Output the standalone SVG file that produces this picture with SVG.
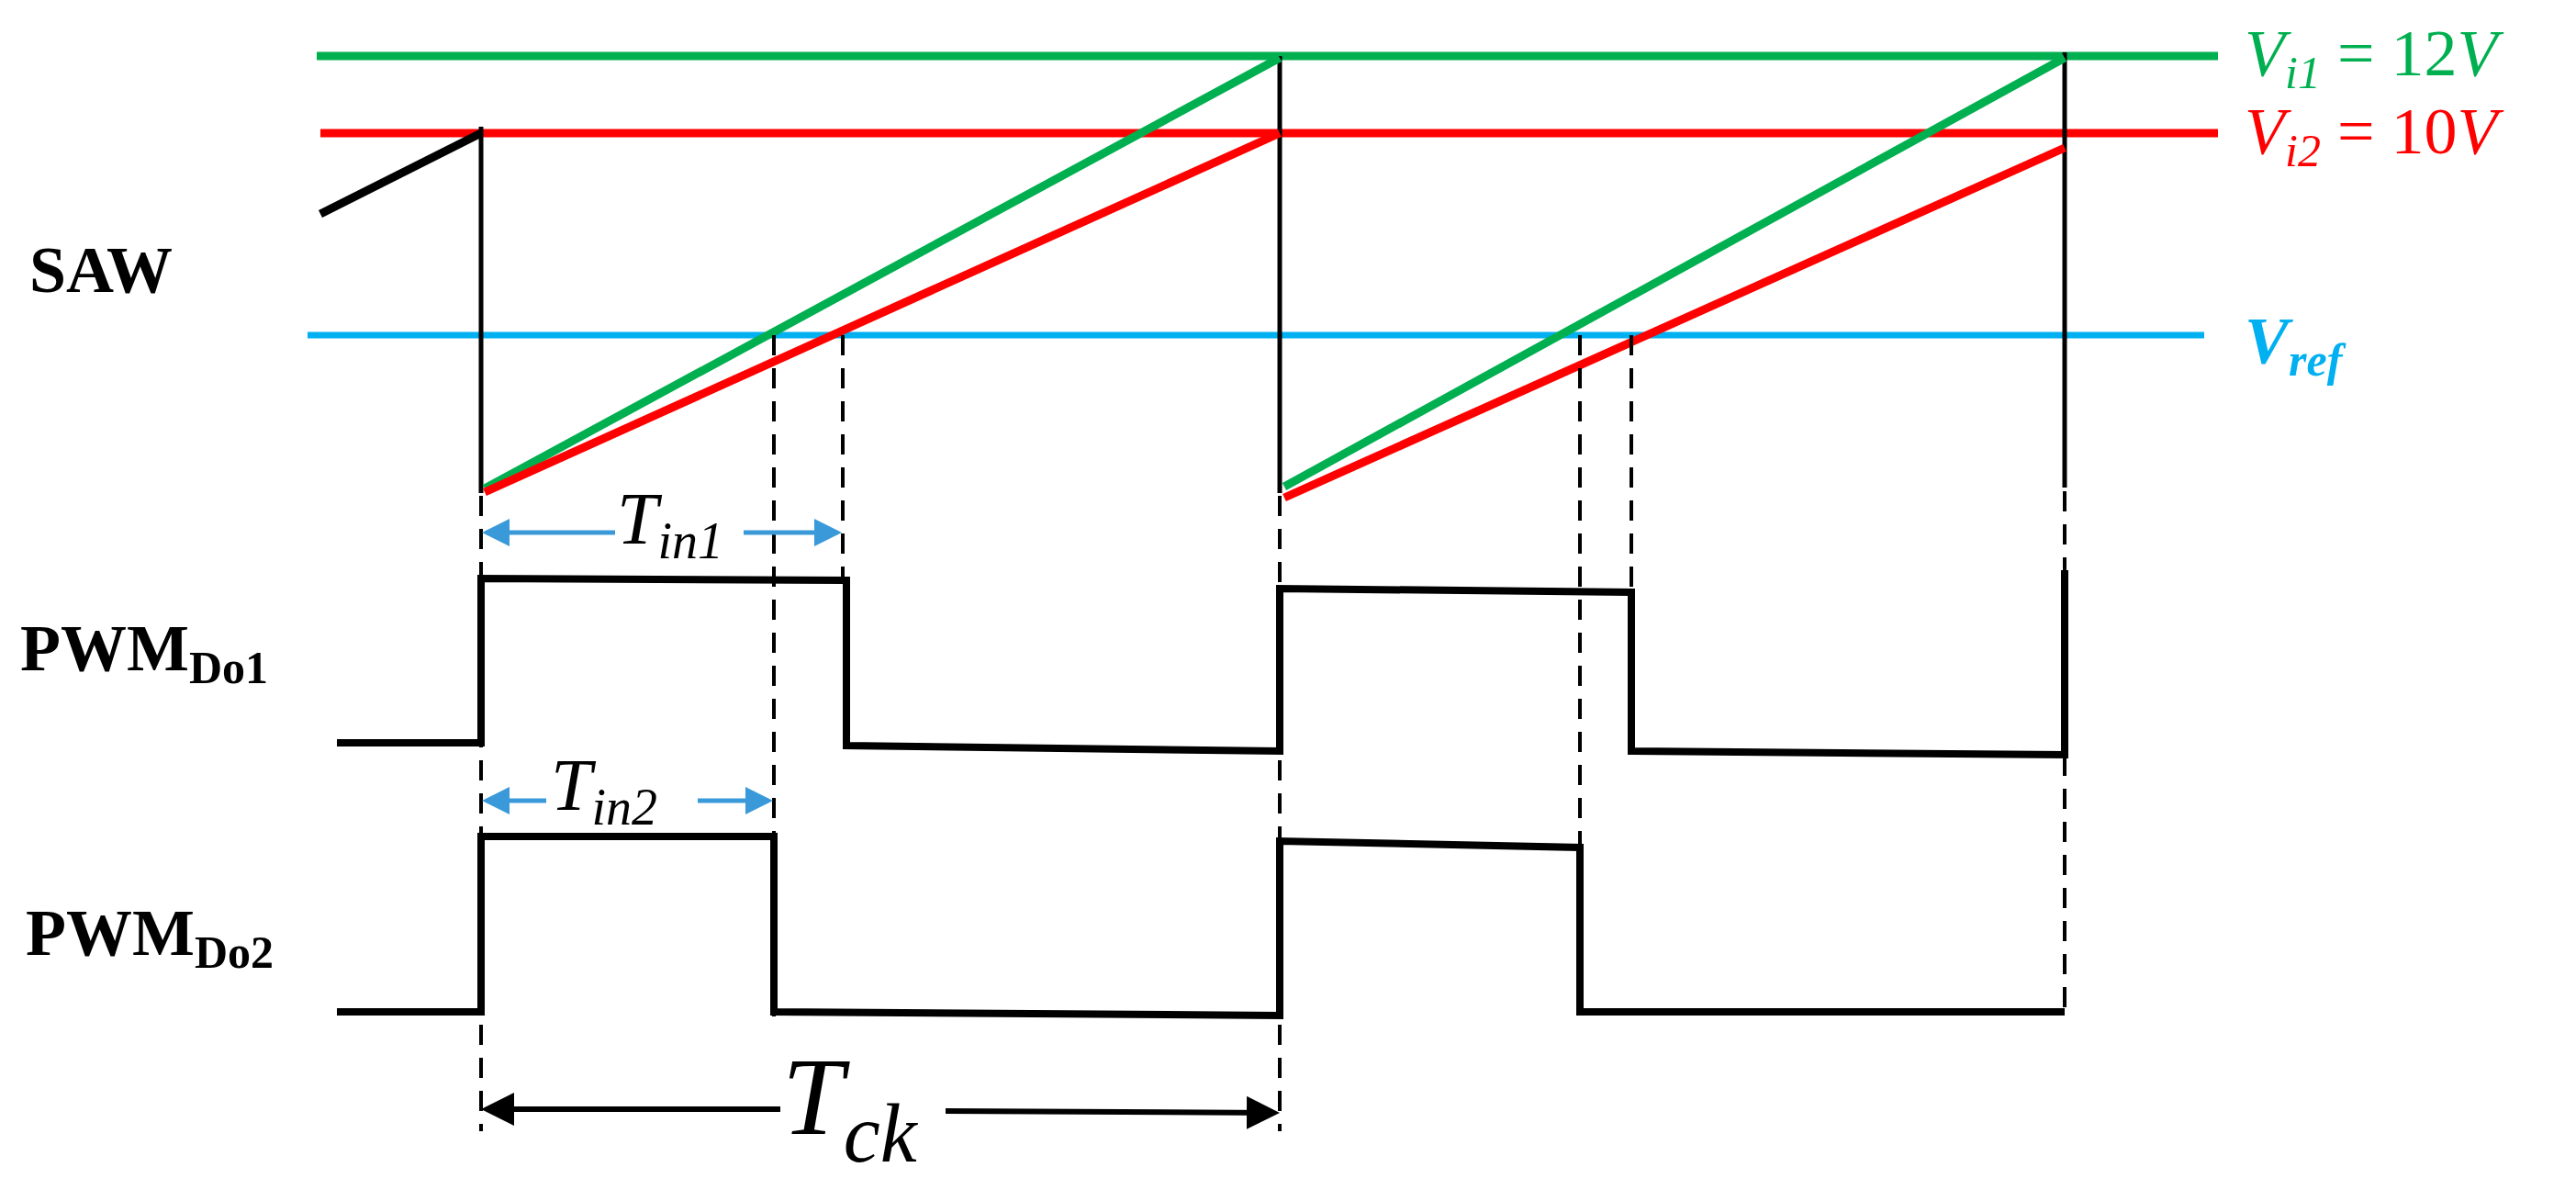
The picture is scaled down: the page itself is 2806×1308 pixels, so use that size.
<svg xmlns="http://www.w3.org/2000/svg" width="2806" height="1308" viewBox="0 0 2806 1308">
<style>
.lbl{font-family:"Liberation Serif",serif;font-weight:bold;font-size:72px;fill:#000}
.m{font-family:"Liberation Serif",serif;font-style:italic}
.g{stroke:#00b050;stroke-width:9;fill:none}
.r{stroke:#ff0000;stroke-width:9;fill:none}
.b{stroke:#00b0f0;stroke-width:7;fill:none}
.k{stroke:#000;stroke-width:5;fill:none}
.p{stroke:#000;stroke-width:8;fill:none}
.d{stroke:#000;stroke-width:4;stroke-dasharray:22,14;fill:none}
.ba{stroke:#3a9ad9;stroke-width:5;fill:none}
.ka{stroke:#000;stroke-width:6;fill:none}
</style>
<defs>
<marker id="bh" markerWidth="6" markerHeight="6" refX="5" refY="3" orient="auto-start-reverse" markerUnits="strokeWidth"><path d="M0,0L6,3L0,6z" fill="#3a9ad9"/></marker>
<marker id="kh" markerWidth="6" markerHeight="6" refX="5" refY="3" orient="auto-start-reverse" markerUnits="strokeWidth"><path d="M0,0L6,3L0,6z" fill="#000"/></marker>
</defs>
<rect width="2806" height="1308" fill="#fff"/>
<g id="levels">
<line class="g" x1="345" y1="61" x2="2416" y2="61"/>
<line class="r" x1="349" y1="145" x2="2416" y2="145"/>
<line class="b" x1="335" y1="365" x2="2401" y2="365"/>
</g>
<g id="saw">
<line x1="349" y1="233" x2="524" y2="145" stroke="#000" stroke-width="9"/>
<line class="k" x1="524" y1="138" x2="524" y2="537"/>
<line class="k" x1="1394" y1="61" x2="1394" y2="537"/>
<line class="k" x1="2249" y1="57" x2="2249" y2="531"/>
<line class="g" x1="528" y1="532" x2="1394" y2="63"/>
<line class="r" x1="528" y1="536" x2="1394" y2="145"/>
<line class="g" x1="1399" y1="530" x2="2249" y2="63"/>
<line class="r" x1="1399" y1="542" x2="2249" y2="161"/>
</g>
<g id="pwm1">
<polyline class="p" points="367,809 524,809 524,630 922,632 922,812 1394,818 1394,641 1777,645 1777,818 2249,822 2249,621"/>
</g>
<g id="pwm2">
<polyline class="p" points="367,1102 524,1102 524,911 843,911 843,1102 1394,1106 1394,916 1721,923 1721,1102 2249,1102"/>
</g>
<g id="connectors">
<line class="d" x1="524" y1="540" x2="524" y2="1232"/>
<line class="d" x1="1394" y1="540" x2="1394" y2="1232"/>
<line class="d" x1="843" y1="365" x2="843" y2="1108"/>
<line class="d" x1="918" y1="365" x2="918" y2="630"/>
<line class="d" x1="1721" y1="365" x2="1721" y2="1102"/>
<line class="d" x1="1777" y1="365" x2="1777" y2="645"/>
<line class="d" x1="2249" y1="535" x2="2249" y2="1106"/>
<line class="ba" x1="530" y1="580" x2="670" y2="580" marker-start="url(#bh)"/>
<line class="ba" x1="810" y1="580" x2="912" y2="580" marker-end="url(#bh)"/>
<line class="ba" x1="530" y1="872" x2="595" y2="872" marker-start="url(#bh)"/>
<line class="ba" x1="760" y1="872" x2="837" y2="872" marker-end="url(#bh)"/>
<line class="ka" x1="530" y1="1208" x2="850" y2="1208" marker-start="url(#kh)"/>
<line class="ka" x1="1030" y1="1210" x2="1388" y2="1212" marker-end="url(#kh)"/>
</g>
<g id="labels">
<text class="lbl" x="32" y="318">SAW</text>
<text class="lbl" x="22" y="730">PWM<tspan style="font-size:50px" dy="14">Do1</tspan></text>
<text class="lbl" x="28" y="1040">PWM<tspan style="font-size:50px" dy="14">Do2</tspan></text>
<text class="m" x="672" y="592" style="font-size:80px">T<tspan style="font-size:56px" dy="16">in1</tspan></text>
<text class="m" x="600" y="882" style="font-size:80px">T<tspan style="font-size:56px" dy="16">in2</tspan></text>
<text class="m" x="852" y="1235" style="font-size:120px">T<tspan style="font-size:90px" dy="30">ck</tspan></text>
<text class="m" x="2445" y="82" fill="#00b050" style="font-size:72px">V<tspan style="font-size:50px" dy="14">i1</tspan><tspan dy="-14" font-style="normal"> = 12</tspan>V</text>
<text class="m" x="2445" y="167" fill="#ff0000" style="font-size:72px">V<tspan style="font-size:50px" dy="14">i2</tspan><tspan dy="-14" font-style="normal"> = 10</tspan>V</text>
<text class="m" x="2445" y="395" fill="#00b0f0" font-weight="bold" style="font-size:72px">V<tspan style="font-size:50px" dy="14">ref</tspan></text>
</g>
</svg>
